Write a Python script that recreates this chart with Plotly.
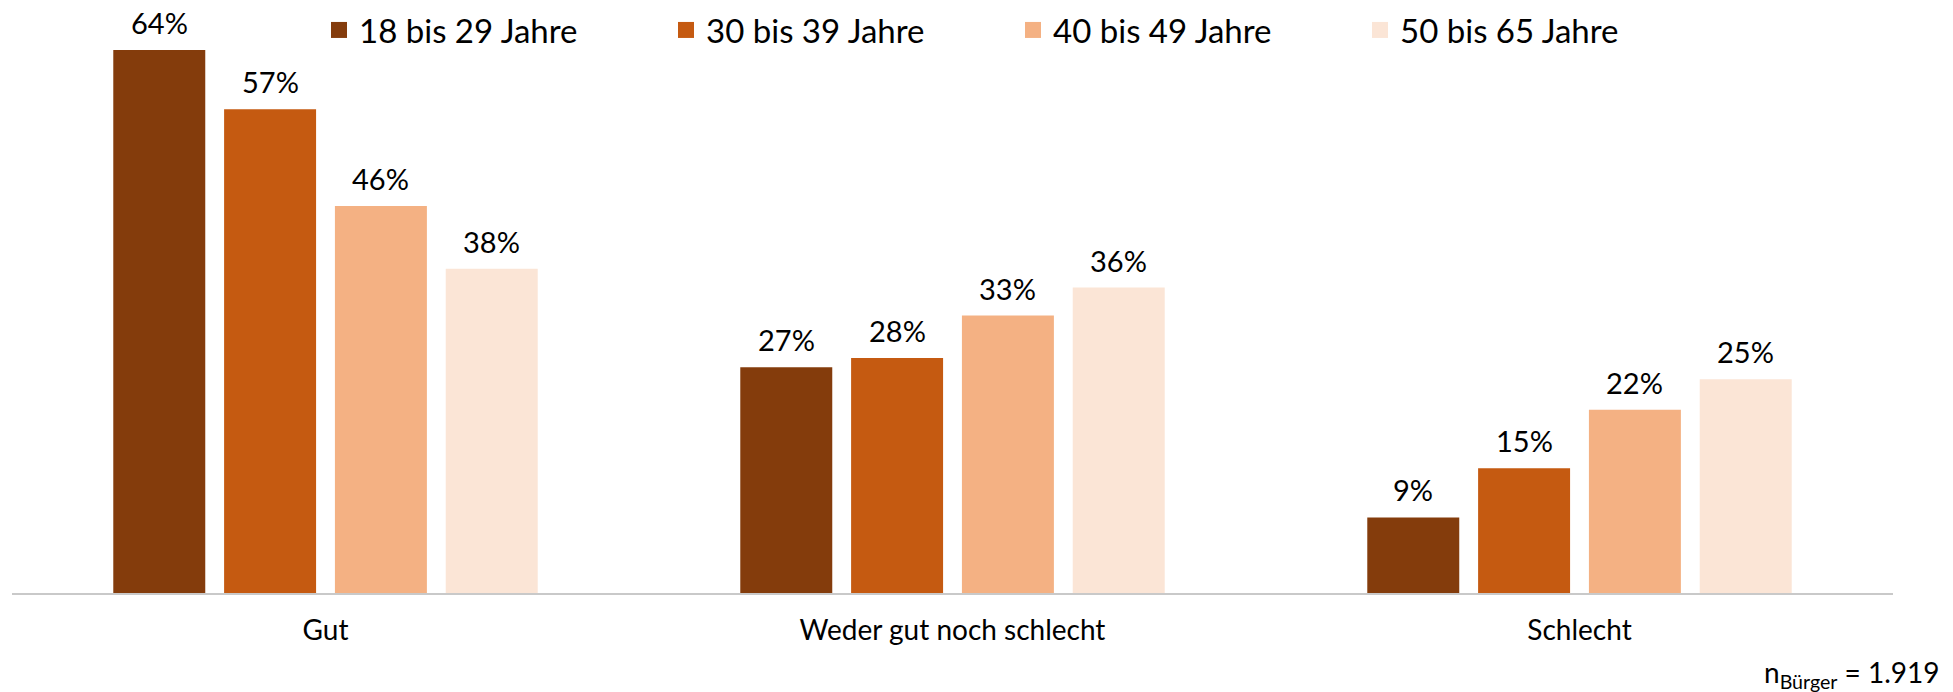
import plotly.graph_objects as go

categories = ["Gut", "Weder gut noch schlecht", "Schlecht"]
series_names = ["18 bis 29 Jahre", "30 bis 39 Jahre", "40 bis 49 Jahre", "50 bis 65 Jahre"]
values_18_29 = [64.0, 26.6, 8.9]
values_30_39 = [57.0, 27.7, 14.7]
values_40_49 = [45.6, 32.7, 21.6]
values_50_65 = [38.2, 36.0, 25.2]
series_values = [values_18_29, values_30_39, values_40_49, values_50_65]
colors = ["#843C0C", "#C55A11", "#F4B183", "#FBE5D6"]
note_text = "n<sub>Bürger</sub> = 1.919"

W, H = 1953, 692
ML, MR, MT, MB = 12, 60, 16, 99
BARGAP = 0.293
BARGROUPGAP = 0.17
YMAX = 68
FONT = "Lato"

fig = go.Figure()
for name, vals, col in zip(series_names, series_values, colors):
    fig.add_trace(go.Bar(
        x=categories, y=vals, name=name, marker=dict(color=col, line=dict(width=0)),
        showlegend=False, hoverinfo="skip",
    ))
# legend entries (larger square symbols)
for name, col in zip(series_names, colors):
    fig.add_trace(go.Scatter(
        x=[None], y=[None], mode="markers", name=name,
        marker=dict(symbol="square", size=16, color=col),
    ))

plot_w = W - ML - MR
cat_w = plot_w / len(categories)
slot = cat_w * (1 - BARGAP) / len(series_names)
for j, vals in enumerate(series_values):
    for cat, v in zip(categories, vals):
        fig.add_annotation(
            x=cat, y=v, xref="x", yref="y", text=f"{round(v)}%",
            showarrow=False, yanchor="bottom", xanchor="center",
            xshift=(j - (len(series_names) - 1) / 2) * slot, yshift=8,
            font=dict(family=FONT, size=29, color="#000000"),
        )

fig.add_annotation(
    xref="paper", yref="paper", x=1 + (MR - 11) / plot_w, y=-(674 - (H - MB)) / (H - MT - MB),
    text=note_text, showarrow=False, xanchor="right", yanchor="middle",
    font=dict(family=FONT, size=28, color="#000000"),
)

fig.update_layout(
    width=W, height=H,
    margin=dict(l=ML, r=MR, t=MT, b=MB, pad=0, autoexpand=False),
    paper_bgcolor="white", plot_bgcolor="white",
    barmode="group", bargap=BARGAP, bargroupgap=BARGROUPGAP,
    font=dict(family=FONT, size=28, color="#000000"),
    legend=dict(
        orientation="h", xref="container", yref="container",
        x=319 / W, y=1 - 2 / H, xanchor="left", yanchor="top",
        entrywidth=302, entrywidthmode="pixels",
        font=dict(family=FONT, size=33, color="#000000"),
        itemclick=False, itemdoubleclick=False,
        bgcolor="rgba(0,0,0,0)",
    ),
    xaxis=dict(
        showline=True, linecolor="#C9C9C9", linewidth=2, ticks="",
        showgrid=False, zeroline=False, ticklabelstandoff=11,
        tickfont=dict(family=FONT, size=28, color="#000000"),
        fixedrange=True,
    ),
    yaxis=dict(
        range=[0, YMAX], visible=False, showgrid=False, zeroline=False, fixedrange=True,
    ),
)

fig.write_html(
    "out.html",
    config={"displayModeBar": False},
    post_script="document.body.style.margin='0';document.body.style.overflow='hidden';",
)
